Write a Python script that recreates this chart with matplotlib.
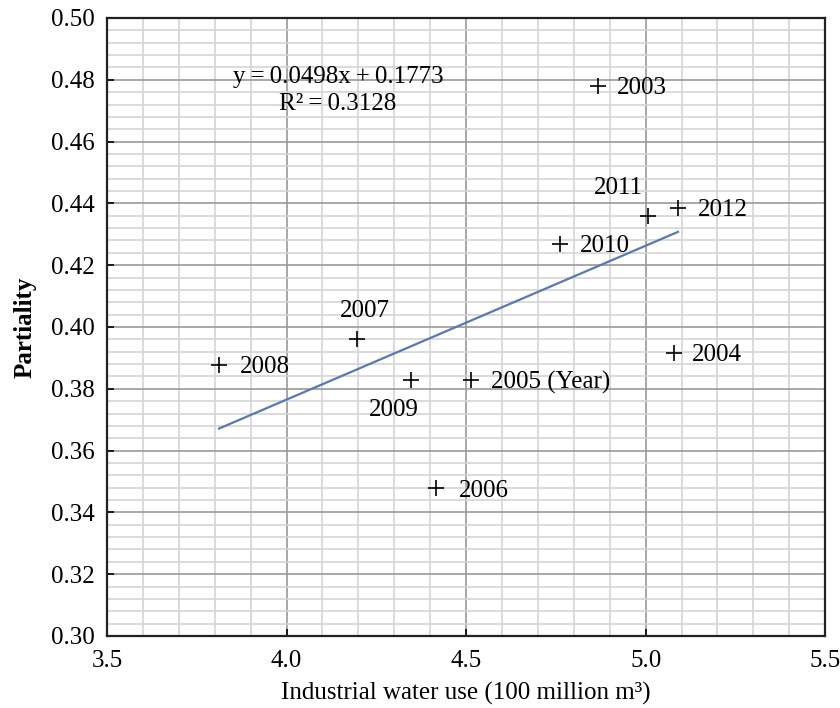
import numpy as np
import matplotlib.pyplot as plt
from matplotlib.ticker import MultipleLocator

plt.rcParams["font.family"] = ["Liberation Serif", "DejaVu Serif"]

years = ["2003", "2004", "2005", "2006", "2007", "2008", "2009", "2010", "2011", "2012"]
water_use = [4.868, 5.079, 4.514, 4.416, 4.196, 3.812, 4.347, 4.762, 5.007, 5.090]
partiality = [0.478, 0.3916, 0.383, 0.348, 0.3961, 0.3877, 0.383, 0.4269, 0.436, 0.4385]
label_text = ["2003", "2004", "2005 (Year)", "2006", "2007", "2008", "2009", "2010", "2011", "2012"]

# trendline coefficients as printed on the chart
slope, intercept, r2 = 0.0498, 0.1773, 0.3128

# label offsets in pixels (dx, dy, ha)
offsets = {
    "2003": (19, -2, "left"),
    "2004": (18, -2, "left"),
    "2005": (20, -3, "left"),
    "2006": (23, -3, "left"),
    "2007": (8, 28, "center"),
    "2008": (21, -2, "left"),
    "2009": (-17, -30, "center"),
    "2010": (20, -2, "left"),
    "2011": (-30, 28, "center"),
    "2012": (20, -2, "left"),
}

fs = 18

fig = plt.figure(figsize=(8.4, 7.08), dpi=100)
ax = fig.add_axes([0.1274, 0.1017, 0.855, 0.8729])

ax.set_xlim(3.5, 5.5)
ax.set_ylim(0.30, 0.50)
ax.xaxis.set_major_locator(MultipleLocator(0.5))
ax.xaxis.set_minor_locator(MultipleLocator(0.1))
ax.yaxis.set_major_locator(MultipleLocator(0.02))
ax.yaxis.set_minor_locator(MultipleLocator(0.004))
ax.xaxis.set_major_formatter(plt.FormatStrFormatter("%.1f"))
ax.yaxis.set_major_formatter(plt.FormatStrFormatter("%.2f"))

ax.grid(which="minor", color="#d4d4d4", linewidth=1.2)
ax.grid(which="major", color="#9a9a9a", linewidth=1.2)
ax.set_axisbelow(True)
ax.tick_params(which="major", direction="in", length=5, width=1.2,
               labelsize=fs, top=False, right=False)
ax.tick_params(axis="x", pad=10)
ax.tick_params(axis="y", pad=9)
ax.tick_params(which="minor", length=0)
for sp in ax.spines.values():
    sp.set_color("#222222")
    sp.set_linewidth(1.6)

xs = np.array([min(water_use), max(water_use)])
ax.plot(xs, slope * xs + intercept, color="#5878b0", linewidth=1.6)

ax.plot(water_use, partiality, linestyle="none", marker="+", color="black",
        markersize=11, markeredgewidth=1.2)

for yr, txt, x, y in zip(years, label_text, water_use, partiality):
    dx, dy, ha = offsets[yr]
    ax.annotate(txt, (x, y), xytext=(dx, dy), textcoords="offset pixels",
                ha=ha, va="center", fontsize=fs)

ax.text(4.1435, 0.4809, f"y\u2009=\u20090.0498x\u2009+\u20090.1773", ha="center", va="center", fontsize=fs)
ax.text(4.1435, 0.4722, f"R²\u2009=\u20090.3128", ha="center", va="center", fontsize=fs)

ax.set_xlabel("Industrial water use (100 million m³)", fontsize=fs, labelpad=7)
ax.set_ylabel("Partiality", fontsize=fs, fontweight="bold", labelpad=10)

fig.savefig("out.png", dpi=100)
